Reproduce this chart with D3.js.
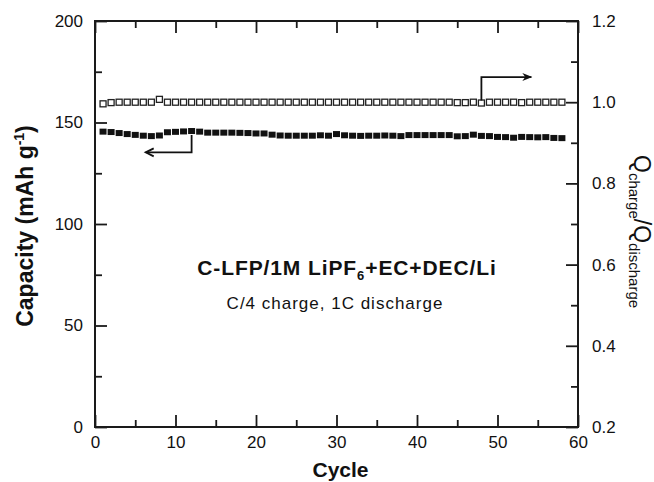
<!DOCTYPE html>
<html>
<head>
<meta charset="utf-8">
<script src="https://cdn.jsdelivr.net/npm/d3@7"></script>
<style>
  body { margin: 0; background: #fff; }
  text { font-family: Arial, "Liberation Sans", Helvetica, sans-serif; fill: #111; }
</style>
</head>
<body>
<svg id="chart" width="654" height="482"></svg>
<script>
// cycle numbers
const cycles = [1, 2, 3, 4, 5, 6, 7, 8, 9, 10, 11, 12, 13, 14, 15, 16, 17, 18, 19, 20,
  21, 22, 23, 24, 25, 26, 27, 28, 29, 30, 31, 32, 33, 34, 35, 36, 37, 38, 39, 40,
  41, 42, 43, 44, 45, 46, 47, 48, 49, 50, 51, 52, 53, 54, 55, 56, 57, 58];

// discharge capacity, mAh/g (left axis, filled squares)
const capacity = [145.5, 145.3, 144.8, 144.3, 143.9, 143.5, 143.3, 143.6, 145.2, 145.4,
  145.6, 145.8, 145.5, 145.0, 145.0, 145.0, 145.0, 144.9, 144.8, 144.6,
  144.6, 144.0, 143.6, 143.5, 143.5, 143.5, 143.5, 143.7, 143.5, 144.3,
  143.7, 143.5, 143.4, 143.5, 143.5, 143.6, 143.5, 143.3, 143.8, 143.8,
  143.8, 143.8, 143.8, 143.8, 143.2, 143.3, 144.0, 143.4, 143.3, 142.9,
  142.8, 142.5, 142.9, 142.8, 142.7, 142.8, 142.4, 142.3];

// Qcharge/Qdischarge (right axis, open squares)
const ratio = [0.996, 0.999, 1.0, 1.0, 1.0, 1.0, 1.0, 1.007, 1.0, 1.0,
  1.0, 1.0, 1.0, 1.0, 1.0, 1.0, 1.0, 1.0, 1.0, 1.0,
  1.0, 1.0, 1.0, 1.0, 1.0, 1.0, 1.0, 1.0, 1.0, 1.0,
  1.0, 1.0, 1.0, 1.0, 1.0, 1.0, 1.0, 1.0, 1.0, 1.0,
  1.0, 1.0, 1.0, 1.0, 0.999, 0.999, 1.0, 0.998, 1.0, 1.0,
  1.0, 1.0, 0.999, 1.0, 1.0, 1.0, 1.0, 1.0];

// ticks
const xTicks = [0, 10, 20, 30, 40, 50, 60];
const xMinor = [5, 15, 25, 35, 45, 55];
const capTicks = [0, 50, 100, 150, 200];
const capMinor = [25, 75, 125, 175];
const ratioTicks = [0.2, 0.4, 0.6, 0.8, 1.0, 1.2];
const ratioMinor = [0.3, 0.5, 0.7, 0.9, 1.1];

// arrow paths, in data units: [cycle, value]
const capArrow = [[12, 143.9], [12, 135.3], [6.3, 135.3]];
const ratioArrow = [[48, 1.004], [48, 1.062], [54.2, 1.062]];

const plot = { left: 95, right: 578, top: 21, bottom: 427 };

const svg = d3.select("#chart");

const x = d3.scaleLinear().domain([0, 60]).range([plot.left, plot.right]);
const yCap = d3.scaleLinear().domain([0, 200]).range([plot.bottom, plot.top]);
const yRatio = d3.scaleLinear().domain([0.2, 1.2]).range([plot.bottom, plot.top]);

function drawAxis(axis, tx, ty) {
  const g = svg.append("g")
    .attr("transform", "translate(" + tx + "," + ty + ")")
    .call(axis);
  g.select(".domain").remove();
  g.selectAll(".tick line").attr("stroke", "#1a1a1a").attr("stroke-width", 1.8);
  g.selectAll(".tick text")
    .attr("font-size", 17)
    .attr("fill", "#111")
    .style("font-family", "Arial, 'Liberation Sans', sans-serif");
  return g;
}

// bottom
drawAxis(d3.axisBottom(x).tickValues(xTicks).tickSize(-12).tickPadding(9), 0, plot.bottom);
drawAxis(d3.axisBottom(x).tickValues(xMinor).tickSize(-7).tickFormat(""), 0, plot.bottom);
// top
drawAxis(d3.axisTop(x).tickValues(xTicks).tickSize(-12).tickFormat(""), 0, plot.top);
drawAxis(d3.axisTop(x).tickValues(xMinor).tickSize(-7).tickFormat(""), 0, plot.top);
// left
drawAxis(d3.axisLeft(yCap).tickValues(capTicks).tickSize(-12).tickPadding(12), plot.left, 0);
drawAxis(d3.axisLeft(yCap).tickValues(capMinor).tickSize(-7).tickFormat(""), plot.left, 0);
// right
drawAxis(d3.axisRight(yRatio).tickValues(ratioTicks).tickSize(-12).tickPadding(14)
  .tickFormat(d3.format(".1f")), plot.right, 0);
drawAxis(d3.axisRight(yRatio).tickValues(ratioMinor).tickSize(-7).tickFormat(""), plot.right, 0);

// frame
svg.append("rect")
  .attr("x", plot.left).attr("y", plot.top)
  .attr("width", plot.right - plot.left).attr("height", plot.bottom - plot.top)
  .attr("fill", "none")
  .attr("stroke", "#1a1a1a")
  .attr("stroke-width", 2);

// capacity points
const ms = 7;
svg.append("g").selectAll("rect")
  .data(cycles.map((c, i) => [c, capacity[i]]))
  .join("rect")
  .attr("x", d => x(d[0]) - ms / 2)
  .attr("y", d => yCap(d[1]) - ms / 2 + 0.5)
  .attr("width", ms)
  .attr("height", ms - 1)
  .attr("fill", "#111");

// ratio points
svg.append("g").selectAll("rect")
  .data(cycles.map((c, i) => [c, ratio[i]]))
  .join("rect")
  .attr("x", d => x(d[0]) - 3)
  .attr("y", d => yRatio(d[1]) - 3)
  .attr("width", 6)
  .attr("height", 6)
  .attr("fill", "#fff")
  .attr("stroke", "#222")
  .attr("stroke-width", 1.3);

// arrows
const capLine = d3.line().x(d => x(d[0])).y(d => yCap(d[1]));
const ratioLine = d3.line().x(d => x(d[0])).y(d => yRatio(d[1]));

svg.append("path")
  .attr("d", capLine(capArrow))
  .attr("fill", "none").attr("stroke", "#111").attr("stroke-width", 1.8);
const capTip = capArrow[capArrow.length - 1];
svg.append("path")
  .attr("d", "M" + (x(capTip[0]) + 8) + "," + (yCap(capTip[1]) - 4) +
    "L" + x(capTip[0]) + "," + yCap(capTip[1]) +
    "L" + (x(capTip[0]) + 8) + "," + (yCap(capTip[1]) + 4))
  .attr("fill", "none").attr("stroke", "#111").attr("stroke-width", 1.8);

svg.append("path")
  .attr("d", ratioLine(ratioArrow))
  .attr("fill", "none").attr("stroke", "#111").attr("stroke-width", 1.8);
const ratioTip = ratioArrow[ratioArrow.length - 1];
svg.append("path")
  .attr("d", "M" + (x(ratioTip[0]) + 1) + "," + yRatio(ratioTip[1]) +
    "L" + (x(ratioTip[0]) - 9) + "," + (yRatio(ratioTip[1]) - 4) +
    "L" + (x(ratioTip[0]) - 6) + "," + yRatio(ratioTip[1]) +
    "L" + (x(ratioTip[0]) - 9) + "," + (yRatio(ratioTip[1]) + 4) + "Z")
  .attr("fill", "#111");

// annotation
const note = svg.append("text")
  .attr("x", 347).attr("y", 275)
  .attr("text-anchor", "middle")
  .attr("font-size", 21)
  .attr("font-weight", "bold")
  .attr("letter-spacing", 0.9);
note.append("tspan").text("C-LFP/1M LiPF");
note.append("tspan").attr("font-size", 13).attr("dy", 5).text("6");
note.append("tspan").attr("dy", -5).text("+EC+DEC/Li");

svg.append("text")
  .attr("x", 335).attr("y", 309)
  .attr("text-anchor", "middle")
  .attr("font-size", 17)
  .attr("letter-spacing", 1)
  .text("C/4 charge, 1C discharge");

// axis titles
svg.append("text")
  .attr("x", (plot.left + plot.right) / 2 + 4).attr("y", 477)
  .attr("text-anchor", "middle")
  .attr("font-size", 21)
  .attr("font-weight", "bold")
  .text("Cycle");

const yTitle = svg.append("text")
  .attr("transform", "translate(33,226) rotate(-90)")
  .attr("text-anchor", "middle")
  .attr("font-size", 23)
  .attr("font-weight", "bold");
yTitle.append("tspan").text("Capacity (mAh g");
yTitle.append("tspan").attr("font-size", 14).attr("dy", -9).text("-1");
yTitle.append("tspan").attr("dy", 9).text(")");

const y2Title = svg.append("text")
  .attr("transform", "translate(634,155) rotate(90)")
  .attr("font-size", 23);
y2Title.append("tspan").text("Q");
y2Title.append("tspan").attr("font-size", 15).attr("dy", 5).text("charge");
y2Title.append("tspan").attr("dy", -5).text("/Q");
y2Title.append("tspan").attr("font-size", 15).attr("dy", 5).text("discharge");
</script>
</body>
</html>
